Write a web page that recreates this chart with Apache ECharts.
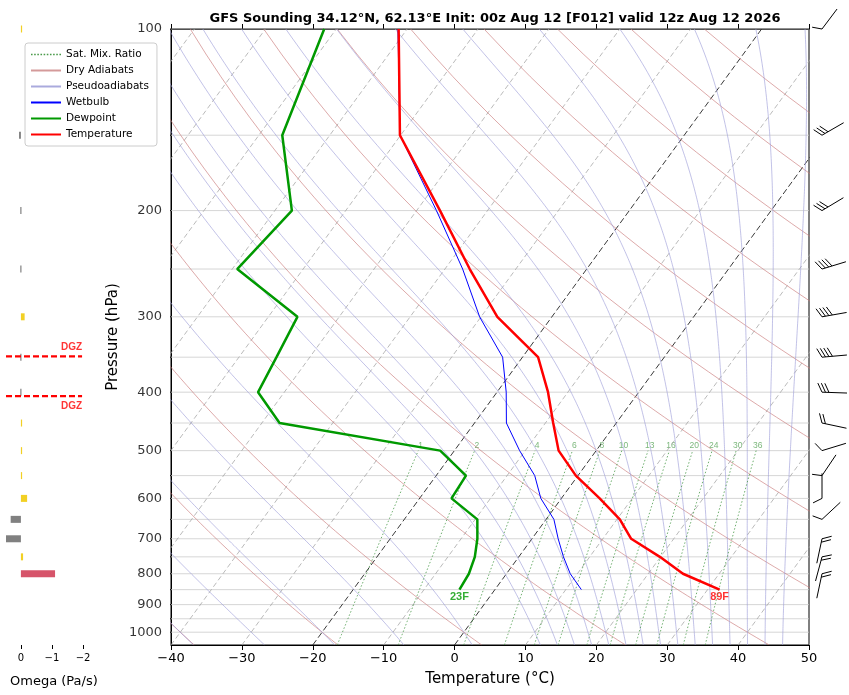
<!DOCTYPE html>
<html>
<head>
<meta charset="utf-8">
<script src="https://cdn.jsdelivr.net/npm/echarts@6/dist/echarts.min.js"></script>
<style>html,body{margin:0;padding:0;background:#fff}#main{width:849px;height:695px}</style>
</head>
<body>
<div id="main"></div>
<script>
// sounding levels
var P_LEV = [100,150,200,250,300,350,400,450,500,550,600,650,700,750,800,850];
var TEMP  = [-71.2,-60.1,-46.7,-36.5,-27.7,-17.8,-12.8,-8.9,-5.3,-0.3,5.4,10.4,14.0,19.9,24.9,31.7];
var DEWP  = [-81.7,-76.7,-67.6,-69.3,-55.9,-54.7,-53.7,-47.5,-22.0,-15.8,-15.5,-9.7,-7.7,-6.2,-5.3,-5.0];
var WETB  = [-71.3,-60.1,-47.2,-37.5,-30.2,-22.8,-18.7,-15.5,-10.8,-6.1,-2.9,1.1,3.7,6.3,9.0,12.2];
// winds
var WIND_P   = [100,150,200,250,300,350,400,450,500,550,600,650,700,750,800];
var WIND_DIR = [217,240,239,253,260,265,272,282,253,214,180,227,12,15,12];
var WIND_KT  = [10,30,30,40,40,40,30,20,10,10,10,10,20,20,20];
// omega panel
var OMEGA_P = [100,150,200,250,300,350,400,450,500,550,600,650,700,750,800];
var OMEGA   = [-0.02,0.06,0.02,0.02,-0.12,0.02,0.02,-0.02,-0.02,-0.02,-0.2,0.33,0.48,-0.07,-1.1];
var DGZ_P = [349,406];
// background line families
var ISOTHERMS = [-110,-100,-90,-80,-70,-60,-50,-40,-30,-20,-10,0,10,20,30,40,50];
var DRY_T0 = [-40,-20,0,20,40,60,80,100,120,140,160,180,200];
var MOIST_T0 = [-50,-40,-30,-20,-10,0,10,12.5,15,17.5,20,22.5,25,27.5,30,32.5,35,37.5,40,42.5,45];
var MIX_W = [1,2,4,6,8,10,13,16,20,24,30,36];
var Y_LABELS = [100,200,300,400,500,600,700,800,900,1000];
var P_GRID = [100,150,200,250,300,350,400,450,500,550,600,650,700,750,800,850,900,950,1000];

var SKEW = 62, PBOT = 1050;
function xs(t, p){ return t + SKEW*Math.log10(PBOT/p); }
function es(t){ return 6.112*Math.exp(17.67*t/(t+243.5)); }

var pSteps = [];
for (var p = 1050; p >= 100; p -= 10) pSteps.push(p);

function join(lines){
	var out = [];
	lines.forEach(function(l){ out = out.concat(l); out.push('-'); });
	return out;
}

var isoGrey = [], isoBlack = [];
ISOTHERMS.forEach(function(t){
	var l = [[xs(t,1050),1050],[xs(t,100),100]];
	if (t == 0 || t == -20) isoBlack.push(l); else isoGrey.push(l);
});

var dryLines = DRY_T0.map(function(t0){
	var th = t0 + 273.15;
	return pSteps.map(function(p){ return [xs(th*Math.pow(p/1000,0.2857)-273.15,p),p]; });
});

function moistLine(t0){
	var Rd=287.04, cp=1005.7, Lv=2.501e6, eps=0.622;
	function dTdp(T,p){
		var e = es(T-273.15), rs = eps*e/(p-e);
		return (Rd*T + Lv*rs)/(cp + Lv*Lv*rs*eps/(Rd*T*T))/p;
	}
	var up = [], T = t0+273.15, p = 1000, h = -2;
	while (p >= 100){ up.push([xs(T-273.15,p),p]); T += h*dTdp(T,p); p += h; }
	T = t0+273.15; p = 1000; var down = [];
	while (p <= 1050){ down.unshift([xs(T-273.15,p),p]); T += 2*dTdp(T,p); p += 2; }
	return down.concat(up);
}
var moistLines = MOIST_T0.map(moistLine);

function tdFromW(w,p){
	var e = (w/1000)*p/(0.622+w/1000), g = Math.log(e/6.112);
	return 243.5*g/(17.67-g);
}
var mixLines = MIX_W.map(function(w){
	var l = [];
	for (var p = 1050; p >= 500; p -= 10) l.push([xs(tdFromW(w,p),p),p]);
	return l;
});
var mixLabels = MIX_W.map(function(w){ return {value:[xs(tdFromW(w,490),490),490], w:w}; });

var gridLines = join(P_GRID.map(function(p){ return [[-40,p],[50,p]]; }));
var tickLines = join(P_GRID.map(function(p){ return [[-40,p],[-40.7,p]]; }));

function prof(arr){ return arr.map(function(t,i){ return [xs(t,P_LEV[i]),P_LEV[i]]; }); }
var last = P_LEV.length-1;

function omegaColor(v){ return v < -0.5 ? '#d6546a' : (v > 0 ? '#808080' : '#f2d024'); }

function dotted(){
	var s = 'path://';
	for (var i = 0; i < 10; i++) s += 'M'+(i*3)+',0h1.5v1.5h-1.5z';
	return s;
}

var myChart = echarts.init(document.getElementById('main'));
var option = {
	animation: false,
	title: [{
		text: 'GFS Sounding 34.12°N, 62.13°E Init: 00z Aug 12 [F012] valid 12z Aug 12 2026',
		left: 490, top: 7, textAlign: 'center',
		textStyle: {fontSize: 13, fontWeight: 'bold', color: '#000', fontFamily: 'DejaVu Sans'}
	},{
		text: 'Omega (Pa/s)', left: 5, top: 670,
		textStyle: {fontSize: 13, fontWeight: 'normal', color: '#000', fontFamily: 'DejaVu Sans'}
	}],
	legend: {
		orient: 'vertical', left: 25, top: 43,
		backgroundColor: '#fff', borderColor: '#ccc', borderWidth: 1, borderRadius: 3,
		padding: [6,8,6,6], itemGap: 5, itemWidth: 30, itemHeight: 2,
		textStyle: {fontSize: 10.5, color: '#000', fontFamily: 'DejaVu Sans'},
		data: [
			{name: 'Sat. Mix. Ratio', icon: dotted()},
			{name: 'Dry Adiabats', icon: 'rect'},
			{name: 'Pseudoadiabats', icon: 'rect'},
			{name: 'Wetbulb', icon: 'rect'},
			{name: 'Dewpoint', icon: 'rect'},
			{name: 'Temperature', icon: 'rect'}
		]
	},
	grid: [
		{left: 171, top: 29, width: 638, height: 616, show: true, borderColor: '#000', borderWidth: 1},
		{left: 6, top: 29, width: 77, height: 616}
	],
	xAxis: [
		{gridIndex: 0, type: 'value', min: -40, max: 50, interval: 10, position: 'bottom',
		 name: 'Temperature (°C)', nameLocation: 'middle', nameGap: 27,
		 nameTextStyle: {fontSize: 15, color: '#000', fontFamily: 'DejaVu Sans'},
		 axisLine: {onZero: false, lineStyle: {color: '#000'}}, axisTick: {length: 5, lineStyle: {color: '#000'}},
		 axisLabel: {fontSize: 13, color: '#000', margin: 7, fontFamily: 'DejaVu Sans',
			formatter: function(v){ return String(v).replace('-', '\u2212'); }},
		 splitLine: {show: false}},
		{gridIndex: 0, type: 'value', min: -40, max: 50, interval: 10, position: 'top',
		 axisLine: {onZero: false, lineStyle: {color: '#000'}}, axisTick: {length: 5, lineStyle: {color: '#000'}},
		 axisLabel: {show: false}, splitLine: {show: false}},
		{gridIndex: 1, type: 'value', min: -2, max: 0.48, interval: 1, inverse: true,
		 axisLine: {show: false, onZero: false}, axisTick: {length: 4, lineStyle: {color: '#000'}},
		 axisLabel: {fontSize: 10, color: '#000', showMaxLabel: false, fontFamily: 'DejaVu Sans',
			formatter: function(v){ return String(v).replace('-', '\u2212'); }},
		 splitLine: {show: false}}
	],
	yAxis: [
		{gridIndex: 0, type: 'log', logBase: 10, min: 100, max: 1050, inverse: true,
		 name: 'Pressure (hPa)', nameLocation: 'middle', nameGap: 50,
		 nameTextStyle: {fontSize: 15, color: '#000', fontFamily: 'DejaVu Sans'},
		 axisLine: {onZero: false, lineStyle: {color: '#000'}}, axisTick: {show: false}, axisLabel: {show: false},
		 splitLine: {show: false}},
		{gridIndex: 1, type: 'log', logBase: 10, min: 100, max: 1050, inverse: true, show: false}
	],
	series: [
		{type: 'line', silent: true, symbol: 'none', data: gridLines,
		 lineStyle: {color: '#cccccc', width: 0.8}},
		{type: 'line', silent: true, symbol: 'none', data: join(isoGrey),
		 lineStyle: {color: '#a8a8a8', width: 0.8, type: [5,3]}},
		{type: 'line', silent: true, symbol: 'none', data: join(isoBlack),
		 lineStyle: {color: '#222', width: 0.9, type: [6,3]}},
		{name: 'Dry Adiabats', type: 'line', silent: true, symbol: 'none', data: join(dryLines),
		 color: '#d49a9a', lineStyle: {color: '#c97878', width: 0.7, opacity: 0.9}},
		{name: 'Pseudoadiabats', type: 'line', silent: true, symbol: 'none', data: join(moistLines),
		 color: '#aaaadd', lineStyle: {color: '#9d9dd8', width: 0.7, opacity: 0.9}},
		{name: 'Sat. Mix. Ratio', type: 'line', silent: true, symbol: 'none', data: join(mixLines),
		 color: '#4a9a4a', lineStyle: {color: '#4a9a4a', width: 0.8, type: [1.5,2]}},
		{type: 'scatter', silent: true, symbolSize: 0, data: mixLabels,
		 label: {show: true, position: 'inside', fontSize: 8.5, color: '#5aa55a',
			formatter: function(d){ return d.data.w; }}},
		{name: 'Wetbulb', type: 'line', symbol: 'none', data: prof(WETB), color: '#0000ff',
		 lineStyle: {color: '#0000ff', width: 1}},
		{name: 'Dewpoint', type: 'line', symbol: 'none', data: prof(DEWP), color: '#009900',
		 lineStyle: {color: '#009900', width: 2.5}},
		{name: 'Temperature', type: 'line', symbol: 'none', data: prof(TEMP), color: '#ff0000',
		 lineStyle: {color: '#ff0000', width: 2.5}},
		{type: 'scatter', symbolSize: 0, silent: true,
		 data: [{value: prof(TEMP)[last], txt: Math.round(TEMP[last]*9/5+32)+'F', label: {color: '#ff0000'}},
				{value: prof(DEWP)[last], txt: Math.round(DEWP[last]*9/5+32)+'F', label: {color: '#009900'}}],
		 label: {show: true, position: 'bottom', distance: 2, fontSize: 11, fontWeight: 'bold',
			formatter: function(d){ return d.data.txt; }}},
		{type: 'line', silent: true, symbol: 'none', clip: false, data: tickLines,
		 lineStyle: {color: '#000', width: 1}},
		{type: 'scatter', silent: true, symbolSize: 0, clip: false,
		 data: Y_LABELS.map(function(p){ return [-40,p]; }),
		 label: {show: true, position: 'left', distance: 9, fontSize: 13, color: '#000', fontFamily: 'DejaVu Sans',
			formatter: function(d){ return d.value[1]; }}},
		{type: 'custom', silent: true, clip: false,
		 data: WIND_P.map(function(p,i){ return [50,p,WIND_DIR[i],WIND_KT[i]]; }),
		 renderItem: function(params, api){
			var pt = api.coord([api.value(0), api.value(1)]);
			var tx = pt[0]+13, ty = pt[1];
			var b = (api.value(2)-180)*Math.PI/180;
			var ux = Math.sin(b), uy = -Math.cos(b);
			var fx = uy - 0.5*ux, fy = -ux - 0.5*uy;
			var fl = Math.sqrt(fx*fx+fy*fy); fx /= fl; fy /= fl;
			var kids = [{type: 'line', shape: {x1: tx, y1: ty, x2: tx+25*ux, y2: ty+25*uy},
				style: {stroke: '#000', lineWidth: 1}}];
			var kt = api.value(3), k = 0;
			while (kt >= 10){
				var sx = tx+k*3.5*ux, sy = ty+k*3.5*uy;
				kids.push({type: 'line', shape: {x1: sx, y1: sy, x2: sx+10*fx, y2: sy+10*fy},
					style: {stroke: '#000', lineWidth: 1}});
				kt -= 10; k++;
			}
			if (kt >= 5){
				var hx = tx+k*3.5*ux, hy = ty+k*3.5*uy;
				kids.push({type: 'line', shape: {x1: hx, y1: hy, x2: hx+5*fx, y2: hy+5*fy},
					style: {stroke: '#000', lineWidth: 1}});
			}
			return {type: 'group', children: kids};
		 }},
		// omega panel
		{type: 'custom', xAxisIndex: 2, yAxisIndex: 1, silent: true,
		 data: OMEGA_P.map(function(p,i){ return [OMEGA[i],p]; }),
		 renderItem: function(params, api){
			var a = api.coord([0, api.value(1)]), b = api.coord([api.value(0), api.value(1)]);
			var x0 = Math.min(a[0],b[0]), w = Math.max(Math.abs(a[0]-b[0]), 1.2);
			return {type: 'rect', shape: {x: x0, y: a[1]-3.5, width: w, height: 7},
				style: {fill: omegaColor(api.value(0))}};
		 }},
		{type: 'line', xAxisIndex: 2, yAxisIndex: 1, silent: true, symbol: 'none',
		 data: join(DGZ_P.map(function(p){ return [[0.48,p],[-1.97,p]]; })),
		 lineStyle: {color: '#ff0000', width: 2.2, type: [6,3]}},
		{type: 'scatter', xAxisIndex: 2, yAxisIndex: 1, silent: true, symbolSize: 0,
		 data: [[-1.97, DGZ_P[0]], [-1.97, DGZ_P[1]]],
		 label: {show: true, position: 'left', distance: 0, fontSize: 10, fontWeight: 'bold', color: '#ff0000',
			formatter: 'DGZ'},
		 labelLayout: function(p){ return {dy: p.dataIndex == 0 ? -9 : 10}; }}
	]
};
myChart.setOption(option);
</script>
</body>
</html>
